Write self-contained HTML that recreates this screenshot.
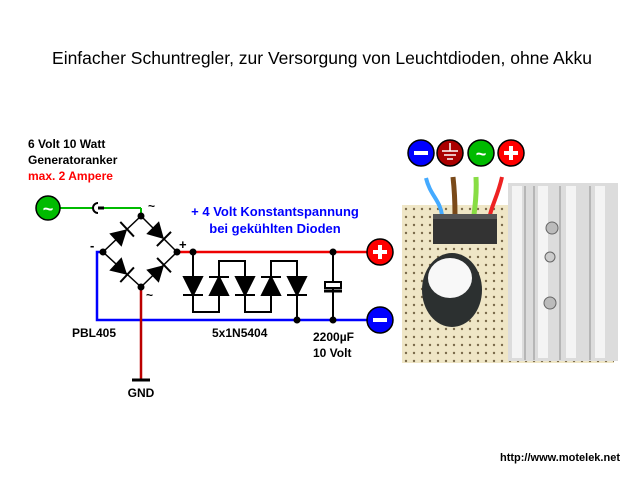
<!DOCTYPE html>
<html><head><meta charset="utf-8"><style>
html,body{margin:0;padding:0;background:#fff}
svg{display:block}
text{font-family:"Liberation Sans",Arial,sans-serif}
</style></head><body>
<svg width="640" height="480" viewBox="0 0 640 480" xmlns="http://www.w3.org/2000/svg">
<defs>
<pattern id="holes" x="402" y="205" width="8" height="8" patternUnits="userSpaceOnUse">
<rect width="8" height="8" fill="#efe6c6"/><circle cx="4" cy="4" r="1.2" fill="#7a6a4a"/>
</pattern>
<g id="dio"><polygon points="-9,-9 -9,9 7,0" fill="#000"/><line x1="7" y1="-10" x2="7" y2="10" stroke="#000" stroke-width="2"/></g>
</defs>
<text x="322" y="64" font-size="17.5" text-anchor="middle" fill="#000">Einfacher Schuntregler, zur Versorgung von Leuchtdioden, ohne Akku</text>

<text x="28" y="148" font-size="12" font-weight="bold">6 Volt 10 Watt</text>
<text x="28" y="164" font-size="12" font-weight="bold">Generatoranker</text>
<text x="28" y="180" font-size="12" font-weight="bold" fill="#f00">max. 2 Ampere</text>

<!-- green input -->
<line x1="58" y1="208" x2="141" y2="208" stroke="#0b0" stroke-width="2"/>
<line x1="141" y1="208" x2="141" y2="216" stroke="#0b0" stroke-width="2"/>
<rect x="92" y="205" width="12" height="6" fill="#fff"/>
<path d="M98,203 A5,5 0 0,0 98,213" fill="none" stroke="#000" stroke-width="2"/>
<line x1="98" y1="208" x2="104" y2="208" stroke="#000" stroke-width="3"/>
<circle cx="48" cy="208" r="12" fill="#0b0" stroke="#000" stroke-width="1.5"/>
<text x="48" y="215" font-size="18" font-weight="bold" fill="#fff" text-anchor="middle">~</text>

<!-- wires -->
<polyline points="177,252 372,252" fill="none" stroke="#e00" stroke-width="2.5"/>
<polyline points="103,252 97,252 97,320 372,320" fill="none" stroke="#00f" stroke-width="2.5"/>
<line x1="141" y1="287" x2="141" y2="380" stroke="#b00" stroke-width="2.5"/>
<line x1="132" y1="380" x2="150" y2="380" stroke="#000" stroke-width="3"/>
<text x="141" y="397" font-size="12" font-weight="bold" text-anchor="middle">GND</text>

<!-- bridge -->
<g stroke="#000" stroke-width="1.5">
<line x1="141" y1="216" x2="177" y2="252"/><line x1="141" y1="216" x2="103" y2="252"/>
<line x1="103" y1="252" x2="141" y2="287"/><line x1="177" y1="252" x2="141" y2="287"/>
</g>
<use href="#dio" transform="translate(122,234) rotate(-43)"/>
<use href="#dio" transform="translate(159,234) rotate(45)"/>
<use href="#dio" transform="translate(122,270) rotate(43)"/>
<use href="#dio" transform="translate(159,270) rotate(-44)"/>
<g fill="#000"><circle cx="141" cy="216" r="3.5"/><circle cx="103" cy="252" r="3.5"/><circle cx="177" cy="252" r="3.5"/><circle cx="141" cy="287" r="3.5"/></g>
<text x="148" y="210" font-size="12" font-weight="bold">~</text>
<text x="146" y="299" font-size="12" font-weight="bold">~</text>
<text x="90" y="250" font-size="13" font-weight="bold">-</text>
<text x="179" y="249" font-size="13" font-weight="bold">+</text>

<!-- diode chain -->
<g stroke="#000" stroke-width="2" fill="none">
<polyline points="193,252 193,312 219,312 219,261 245,261 245,312 271,312 271,261 297,261 297,320"/>
</g>
<g fill="#000" stroke="#000" stroke-width="2">
<polygon points="184,277 202,277 193,295"/><line x1="183" y1="295" x2="203" y2="295"/>
<polygon points="210,295 228,295 219,277"/><line x1="209" y1="277" x2="229" y2="277"/>
<polygon points="236,277 254,277 245,295"/><line x1="235" y1="295" x2="255" y2="295"/>
<polygon points="262,295 280,295 271,277"/><line x1="261" y1="277" x2="281" y2="277"/>
<polygon points="288,277 306,277 297,295"/><line x1="287" y1="295" x2="307" y2="295"/>
</g>
<!-- capacitor -->
<line x1="333" y1="252" x2="333" y2="320" stroke="#000" stroke-width="2"/>
<rect x="325" y="282" width="16" height="6" fill="#fff" stroke="#000" stroke-width="2"/>
<line x1="324" y1="291" x2="342" y2="291" stroke="#000" stroke-width="3"/>
<g fill="#000"><circle cx="193" cy="252" r="3.5"/><circle cx="333" cy="252" r="3.5"/><circle cx="297" cy="320" r="3.5"/><circle cx="333" cy="320" r="3.5"/></g>

<text x="275" y="216" font-size="13" font-weight="bold" fill="#00f" text-anchor="middle">+ 4 Volt Konstantspannung</text>
<text x="275" y="233" font-size="13" font-weight="bold" fill="#00f" text-anchor="middle">bei gekühlten Dioden</text>
<text x="72" y="337" font-size="12" font-weight="bold">PBL405</text>
<text x="212" y="337" font-size="12" font-weight="bold">5x1N5404</text>
<text x="313" y="341" font-size="12" font-weight="bold">2200µF</text>
<text x="313" y="357" font-size="12" font-weight="bold">10 Volt</text>

<!-- output terminals -->
<circle cx="380" cy="252" r="13" fill="#f00" stroke="#000" stroke-width="1.5"/>
<rect x="373" y="250" width="14" height="4" fill="#fff"/><rect x="378" y="245" width="4" height="14" fill="#fff"/>
<circle cx="380" cy="320" r="13" fill="#00f" stroke="#000" stroke-width="1.5"/>
<rect x="373" y="318" width="14" height="4" fill="#fff"/>

<!-- legend icons -->
<circle cx="421" cy="153" r="13" fill="#00f" stroke="#000" stroke-width="1.5"/><rect x="414" y="151" width="14" height="4" fill="#fff"/>
<circle cx="450" cy="153" r="13" fill="#a00" stroke="#000" stroke-width="1.5"/>
<g stroke="#fff" stroke-width="1.5"><line x1="450" y1="143" x2="450" y2="151"/><line x1="442" y1="151" x2="458" y2="151"/><line x1="444" y1="155" x2="456" y2="155"/><line x1="447" y1="159" x2="453" y2="159"/></g>
<circle cx="481" cy="153" r="13" fill="#0b0" stroke="#000" stroke-width="1.5"/>
<text x="481" y="160" font-size="18" font-weight="bold" fill="#fff" text-anchor="middle">~</text>
<circle cx="511" cy="153" r="13" fill="#f00" stroke="#000" stroke-width="1.5"/>
<rect x="504" y="151" width="14" height="4" fill="#fff"/><rect x="509" y="146" width="4" height="14" fill="#fff"/>

<!-- photo -->
<rect x="402" y="205" width="212" height="158" fill="url(#holes)"/>
<path d="M426,178 C430,195 440,200 442,215" stroke="#4af" stroke-width="4" fill="none"/>
<path d="M453,177 C455,195 455,205 455,215" stroke="#7a4a1a" stroke-width="5" fill="none"/>
<path d="M476,177 C477,195 475,205 474,215" stroke="#8d4" stroke-width="5" fill="none"/>
<path d="M502,177 C498,195 492,205 490,215" stroke="#e22" stroke-width="4" fill="none"/>
<rect x="433" y="214" width="64" height="30" fill="#333"/>
<rect x="433" y="214" width="64" height="5" fill="#555"/>
<ellipse cx="452" cy="290" rx="30" ry="37" fill="#2c3030"/>
<ellipse cx="450" cy="278" rx="22" ry="20" fill="#f8f8f8"/>
<rect x="508" y="183" width="110" height="178" fill="#dcdcdc"/>
<g fill="#f4f4f4"><rect x="512" y="186" width="10" height="172"/><rect x="538" y="186" width="10" height="172"/><rect x="566" y="186" width="10" height="172"/><rect x="595" y="186" width="10" height="172"/></g>
<g stroke="#aaa" stroke-width="1.5"><line x1="525" y1="186" x2="525" y2="360"/><line x1="534" y1="186" x2="534" y2="360"/><line x1="560" y1="186" x2="560" y2="360"/><line x1="590" y1="186" x2="590" y2="360"/></g>
<circle cx="552" cy="228" r="6" fill="#bbb" stroke="#666"/><circle cx="550" cy="257" r="5" fill="#ccc" stroke="#666"/><circle cx="550" cy="303" r="6" fill="#bbb" stroke="#666"/>

<text x="620" y="461" font-size="11" font-weight="bold" text-anchor="end">http://www.motelek.net</text>
</svg>
</body></html>
